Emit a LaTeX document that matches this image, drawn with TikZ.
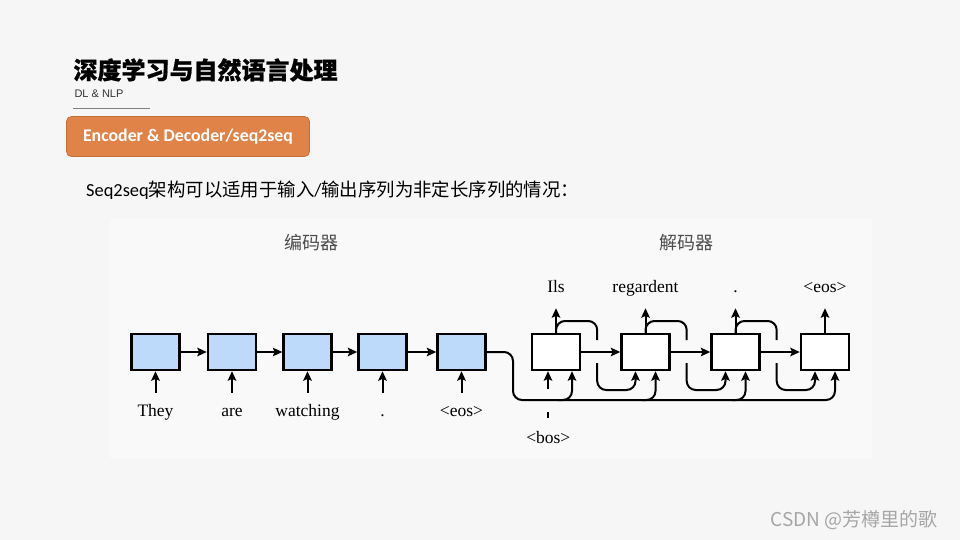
\documentclass[tikz,border=0pt]{standalone}
\usepackage{fontspec}
\usetikzlibrary{arrows.meta,positioning,calc}
\setmainfont{Liberation Serif}
\newfontfamily\cjkfont{Noto Sans CJK SC}
\newfontfamily\titlefont[BoldFeatures={FakeBold=0.8}]{Noto Sans CJK SC}
\newfontfamily\calfont{Carlito}
\newfontfamily\arialfont{Liberation Sans}
\definecolor{slidebg}{RGB}{246,246,246}
\definecolor{encblue}{RGB}{190,218,250}
\definecolor{tagorange}{RGB}{224,131,72}
\definecolor{tagborder}{RGB}{196,110,56}
\tikzset{
  encbox/.style={draw,line width=2.4pt,fill=encblue,minimum width=48pt,minimum height=36pt,inner sep=0pt},
  decbox/.style={encbox,fill=white},
  word/.style={font=\fontsize{17.5}{20}\selectfont,text height=12pt,text depth=4pt,inner xsep=0pt,anchor=base},
  flow/.style={line width=2pt,-{Stealth[length=9.5pt,width=8.5pt,inset=1.8pt]}},
  wire/.style={line width=2pt,rounded corners=9pt},
}
\begin{document}
\begin{tikzpicture}[x=1pt,y=-1pt]
    \fill[slidebg] (0,0) rectangle (960,540);
    \useasboundingbox (0,0) rectangle (960,540);
    \fill[white!30!slidebg] (110,218) rectangle (872,458);
    % header
    \node[anchor=west,font=\titlefont\bfseries\fontsize{24}{28}\selectfont] (title) at (70,70) {深度学习与自然语言处理};
    \node[anchor=west,font=\arialfont\fontsize{11}{13}\selectfont,text=black!80] (subtitle) at (71,93.5) {DL \& NLP};
    \draw[gray,line width=0.6pt] (73,108) -- (150,108);
    \node[draw=tagborder,fill=tagorange,rounded corners=5pt,line width=0.8pt,minimum width=243pt,minimum height=40pt,
        text=white,font=\calfont\bfseries\fontsize{17.8}{20}\selectfont] (tag) at (188,136.5) {Encoder \& Decoder/seq2seq};
    \node[anchor=west,inner sep=0pt,font=\fontsize{18.4}{21}\selectfont] (intro) at (86,190)
        {{\calfont Seq2seq}{\cjkfont 架构可以适用于输入}{\calfont /}{\cjkfont 输出序列为非定长序列的情况：}};
    % encoder
    \node[font=\cjkfont\fontsize{18}{20}\selectfont,text=black!70] (enctitle) at (311,243) {编码器};
    \foreach \x/\w [count=\i] in {155.5/They,232/are,307.5/watching,382.5/.,461.5/<eos>} {
        \node[encbox] (e\i) at (\x,352) {};
        \node[word,inner ysep=11pt] (w\i) at (\x,416) {\w};
        \draw[flow] (w\i) -- (e\i);
    }
    \foreach \i/\j in {1/2,2/3,3/4,4/5}
        \draw[flow] (e\i) -- (e\j);
    % decoder
    \node[font=\cjkfont\fontsize{18}{20}\selectfont,text=black!70] (dectitle) at (686,243) {解码器};
    \foreach \x/\w [count=\i] in {556/Ils,645.5/regardent,735.5/.,825/<eos>} {
        \node[decbox] (d\i) at (\x,352) {};
        \node[word,inner ysep=12pt] (o\i) at (\x,292) {\w};
        \draw[flow] (d\i) -- (o\i);
        \coordinate (da\i) at ([xshift=-10pt]d\i.south);
        \coordinate (db\i) at ([xshift=10pt]d\i.south);
    }
    \coordinate (da1) at ([xshift=-8pt]d1.south);
    \coordinate (db1) at ([xshift=16pt]d1.south);
    \foreach \i/\j in {1/2,2/3,3/4}
        \draw[flow] (d\i) -- (d\j);
    % context from the encoder
    \coordinate (ctx) at (0,400);
    \coordinate (loopbot) at (0,390);
    \coordinate (looptop) at (0,321);
    \coordinate (bend) at (513,400);
    \draw[wire,flow] (e5.east) -| (bend) -- (db4 |- ctx) -- (db4);
    \foreach \i in {1,2,3}
        \draw[wire,flow] ($(db\i |- ctx)+(-14,0)$) -| (db\i);
    % fed back outputs
    \foreach \i/\j in {1/2,2/3,3/4} {
        \draw[wire] (d\i.north) |- ($(d\i.east |- looptop)+(16,0)$) -- ++(0,19);
        \draw[wire,flow] ($(d\i.east)+(16,11)$) |- (da\j |- loopbot) -- (da\j);
    }
    % start token
    \node[word,inner ysep=13pt] (bos) at (548.3,443) {<bos>};
    \draw[line width=2pt] (bos.north) -- ++(0,-6);
    \draw[flow] ($(da1 |- ctx)+(0,-11)$) -- (da1);
    \node[anchor=east,font=\cjkfont\fontsize{19}{22}\selectfont,text=black!35] (mark) at (941,520) {CSDN @芳樽里的歌};
\end{tikzpicture}
\end{document}
